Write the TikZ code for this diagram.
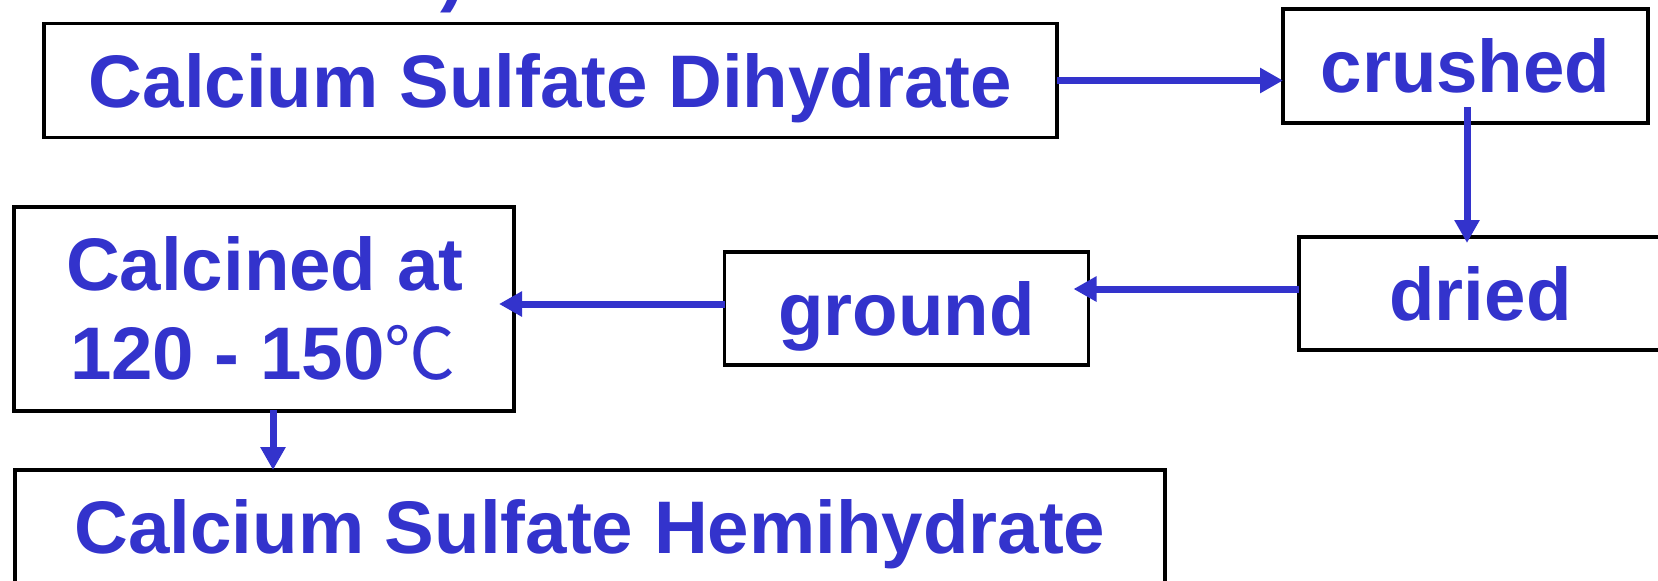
\documentclass[tikz,border=0pt]{standalone}
\usepackage{fontspec}
\setmainfont{Liberation Sans}
\newfontfamily\cjkfont{Noto Sans CJK SC}
\usetikzlibrary{arrows.meta,calc}
\definecolor{flowblue}{RGB}{51,51,204}
\tikzset{
  bigtext/.style={text=flowblue, font=\bfseries\fontsize{74.5}{89}\selectfont},
  box/.style={draw=black, line width=3.5pt, rectangle, inner sep=0pt, outer sep=0pt,
    bigtext, text height=53.5pt, text depth=0pt},
  plainline/.style={bigtext, inner sep=0pt, outer sep=0pt},
  flow/.style={draw=flowblue, line width=7pt, -{Triangle[length=23pt,width=24pt]}}
}
\begin{document}
\begin{tikzpicture}[x=1pt,y=-1pt]
\useasboundingbox (0,0) rectangle (1658,581);

% tail of the heading line above the chart
\node[plainline, anchor=base west] (headtail) at (440,-2.6) {)};

% process steps
\node[box, minimum width=1013pt, minimum height=114pt] (dihyd) at (550.5,80.5) {Calcium Sulfate Dihydrate};
\node[box, minimum width=365pt, minimum height=114pt] (crushed) at (1465.5,66) {crushed};
\node[box, minimum width=363pt, minimum height=113pt] (dried) at (1480.5,293.5) {dried};
\node[box, minimum width=364pt, minimum height=113pt] (ground) at (906.5,308.5) {ground};
\node[box, minimum width=500pt, minimum height=204pt] (calc) at (264,309) {};
\node[plainline, anchor=base west] (calcA) at (66,290) {Calcined at};
\node[plainline, anchor=base west] (calcB) at (70,379) {120 - 150{\cjkfont\mdseries\fontsize{71}{80}\selectfont ℃}};
\node[box, minimum width=1150pt, minimum height=114pt] (hemi) at (590,527) {Calcium Sulfate Hemihydrate};

% connectors
\draw[flow] (dihyd.east) -- (dihyd.east -| crushed.west);
\draw[flow] ($(crushed.south)+(1.5,-16)$) -- ($(crushed.south |- dried.north)+(1.5,6)$);
\draw[flow] ($(dried.west)+(0,-4.5)$) -- ($(dried.west -| ground.east)+(-15,-4.5)$);
\draw[flow] ($(ground.west)+(0,-4.5)$) -- ($(ground.west -| calc.east)+(-15,-4.5)$);
\draw[flow] ($(calc.south)+(9,-1)$) -- ($(calc.south |- hemi.north)+(9,0)$);
\end{tikzpicture}
\end{document}
